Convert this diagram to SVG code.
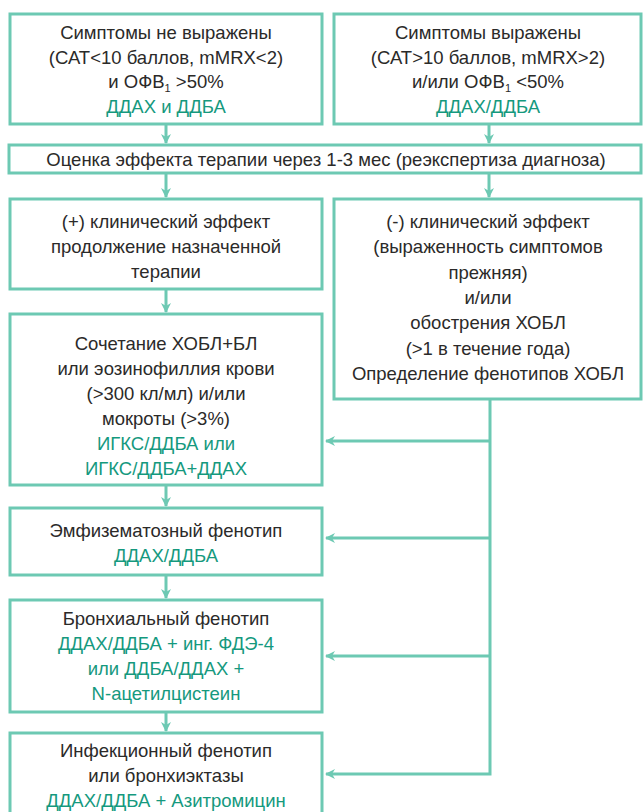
<svg xmlns="http://www.w3.org/2000/svg" width="643" height="812" viewBox="0 0 643 812">
<defs>
<marker id="ah" viewBox="0 0 10 10" refX="9" refY="5" markerWidth="10" markerHeight="10" markerUnits="userSpaceOnUse" orient="auto">
<path d="M0,0 L10,5 L0,10 L3,5 z" fill="#6dc9b3"/>
</marker>
<style>
rect{fill:#fff;stroke:#6dc9b3;stroke-width:3}
.c{fill:none;stroke:#6dc9b3;stroke-width:3}
text{font-family:"Liberation Sans",Arial,sans-serif;font-size:18.5px;fill:#2b2a29;text-anchor:middle}
.g{fill:#15997e}
</style>
</defs>
<rect x="0" y="0" width="643" height="812" style="fill:#fff;stroke:none"/>
<g id="connectors">
<line class="c" x1="166" y1="125" x2="166" y2="143" marker-end="url(#ah)"/>
<line class="c" x1="489" y1="125" x2="489" y2="143" marker-end="url(#ah)"/>
<line class="c" x1="166" y1="174" x2="166" y2="197" marker-end="url(#ah)"/>
<line class="c" x1="489" y1="174" x2="489" y2="197" marker-end="url(#ah)"/>
<line class="c" x1="166" y1="290" x2="166" y2="312" marker-end="url(#ah)"/>
<line class="c" x1="166" y1="486" x2="166" y2="506" marker-end="url(#ah)"/>
<line class="c" x1="166" y1="576" x2="166" y2="598" marker-end="url(#ah)"/>
<line class="c" x1="166" y1="713" x2="166" y2="731" marker-end="url(#ah)"/>
<path class="c" d="M490,400 V774 H326" marker-end="url(#ah)"/>
<line class="c" x1="490" y1="441" x2="326" y2="441" marker-end="url(#ah)"/>
<line class="c" x1="490" y1="538" x2="326" y2="538" marker-end="url(#ah)"/>
<line class="c" x1="490" y1="656" x2="326" y2="656" marker-end="url(#ah)"/>
</g>
<g id="n1">
<rect x="10" y="14" width="312" height="110"/>
<text x="166" y="39">Симптомы не выражены</text>
<text x="166" y="64">(САТ&lt;10 баллов, mMRX&lt;2)</text>
<text x="166" y="88">и ОФВ<tspan font-size="11" dy="4">1</tspan><tspan dy="-4"> &gt;50%</tspan></text>
<text x="166" y="113" class="g">ДДАХ и ДДБА</text>
</g>
<g id="n2">
<rect x="334" y="14" width="307" height="110"/>
<text x="488" y="39">Симптомы выражены</text>
<text x="488" y="64">(САТ&gt;10 баллов, mMRX&gt;2)</text>
<text x="488" y="88">и/или ОФВ<tspan font-size="11" dy="4">1</tspan><tspan dy="-4"> &lt;50%</tspan></text>
<text x="488" y="113" class="g">ДДАХ/ДДБА</text>
</g>
<g id="n3">
<rect x="9" y="145" width="632" height="28"/>
<text x="326" y="166">Оценка эффекта терапии через 1-3 мес (реэкспертиза диагноза)</text>
</g>
<g id="n4">
<rect x="10" y="199" width="312" height="90"/>
<text x="166" y="228">(+) клинический эффект</text>
<text x="166" y="253">продолжение назначенной</text>
<text x="166" y="278">терапии</text>
</g>
<g id="n5">
<rect x="334" y="199" width="307" height="200"/>
<text x="488" y="228">(-) клинический эффект</text>
<text x="488" y="253">(выраженность симптомов</text>
<text x="488" y="279">прежняя)</text>
<text x="488" y="304">и/или</text>
<text x="488" y="329">обострения ХОБЛ</text>
<text x="488" y="355">(&gt;1 в течение года)</text>
<text x="488" y="380">Определение фенотипов ХОБЛ</text>
</g>
<g id="n6">
<rect x="10" y="314" width="312" height="171"/>
<text x="166" y="350">Сочетание ХОБЛ+БЛ</text>
<text x="166" y="375">или эозинофиллия крови</text>
<text x="166" y="400">(&gt;300 кл/мл) и/или</text>
<text x="166" y="425">мокроты (&gt;3%)</text>
<text x="166" y="450" class="g">ИГКС/ДДБА или</text>
<text x="166" y="475" class="g">ИГКС/ДДБА+ДДАХ</text>
</g>
<g id="n7">
<rect x="10" y="508" width="312" height="67"/>
<text x="166" y="537">Эмфизематозный фенотип</text>
<text x="166" y="562" class="g">ДДАХ/ДДБА</text>
</g>
<g id="n8">
<rect x="10" y="600" width="312" height="112"/>
<text x="166" y="625">Бронхиальный фенотип</text>
<text x="166" y="650" class="g">ДДАХ/ДДБА + инг. ФДЭ-4</text>
<text x="166" y="675" class="g">или ДДБА/ДДАХ +</text>
<text x="166" y="700" class="g">N-ацетилцистеин</text>
</g>
<g id="n9">
<rect x="10" y="733" width="312" height="82"/>
<text x="166" y="757">Инфекционный фенотип</text>
<text x="166" y="782">или бронхиэктазы</text>
<text x="166" y="807" class="g">ДДАХ/ДДБА + Азитромицин</text>
</g>
</svg>
